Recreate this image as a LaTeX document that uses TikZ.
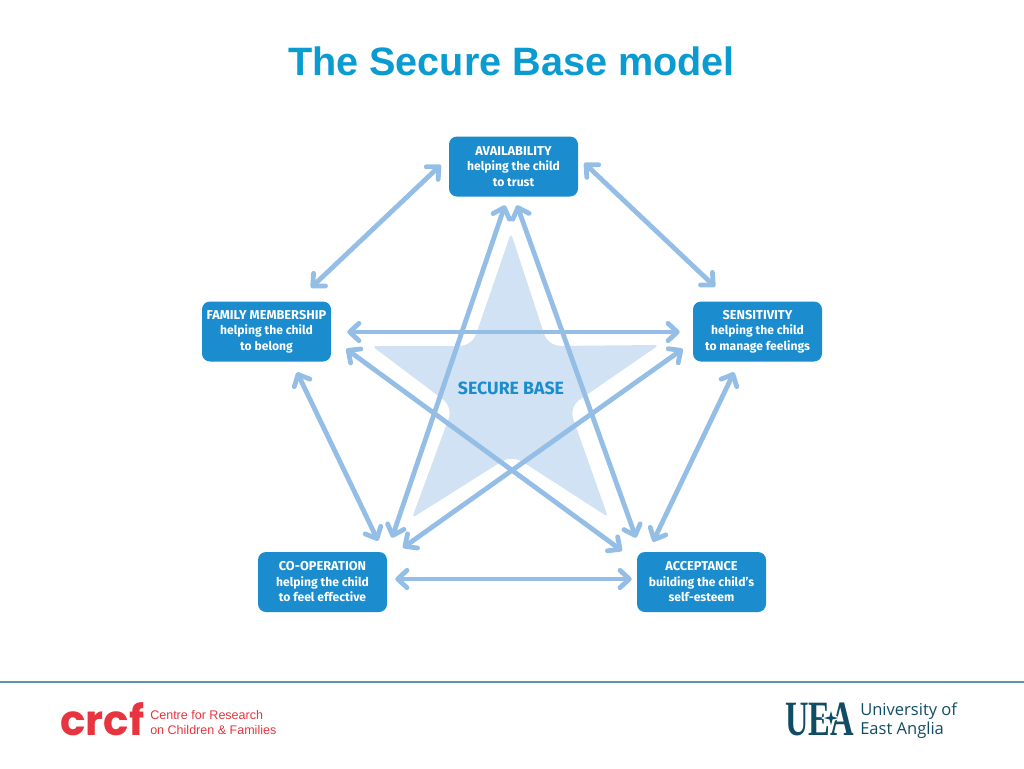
\documentclass[tikz,border=0pt]{standalone}
\usepackage{fontspec}
\setmainfont{Liberation Sans}
\newfontfamily\boxfont{Fira Sans}
\newfontfamily\crcffont{Poppins}
\newfontfamily\ueafont{Liberation Serif}
\newfontfamily\uniname{Open Sans}
\usetikzlibrary{arrows.meta,calc}
\definecolor{titleblue}{RGB}{10,155,208}
\definecolor{boxblue}{RGB}{27,140,205}
\definecolor{arrowblue}{RGB}{148,190,230}
\definecolor{starblue}{RGB}{208,226,243}
\definecolor{rulecol}{RGB}{96,146,176}
\definecolor{crcfred}{RGB}{232,52,62}
\definecolor{ueateal}{RGB}{16,76,100}
\newcommand{\boxhead}[1]{{\fontsize{9.6}{11.6}\selectfont #1}}
\tikzset{
  modelbox/.style={fill=boxblue,rounded corners=6pt,minimum width=96.75pt,minimum height=45pt,inner sep=0pt,
    text=white,align=center,font=\boxfont\bfseries\fontsize{9.1}{11.6}\selectfont},
  twoway/.style={draw=arrowblue,line width=3.6pt,{Straight Barb[round,length=7pt,width=13pt,line width=3.6pt]}-{Straight Barb[round,length=7pt,width=13pt,line width=3.6pt]}},
}
\begin{document}
\begin{tikzpicture}[x=0.75pt,y=0.75pt,yscale=-1,xscale=1]
\useasboundingbox (0,0) rectangle (1024,768);

% title
\node (title) at (511.5,61) {\fontsize{29.7}{34}\selectfont\bfseries\color{titleblue}The Secure Base model};

% star
\fill[starblue,rounded corners=3pt] (511,233) [rounded corners=9pt] -- (548,346) [rounded corners=3pt] -- (659,345)
  [rounded corners=9pt] -- (569,407) [rounded corners=3pt] -- (608,517) [rounded corners=9pt] -- (512,455)
  [rounded corners=3pt] -- (412,518) [rounded corners=9pt] -- (453,407) [rounded corners=3pt] -- (372,346)
  [rounded corners=9pt] -- (472,346) [rounded corners=3pt] -- cycle;
\node[text=boxblue,font=\boxfont\bfseries\fontsize{13.3}{15}\selectfont] (base) at (511,388) {SECURE BASE};

% boxes
\node[modelbox] (avail) at (513.5,166.5) {\boxhead{AVAILABILITY}\\helping the child\\to trust};
\node[modelbox] (family) at (266.5,331.5) {\boxhead{FAMILY MEMBERSHIP}\\helping the child\\to belong};
\node[modelbox] (sens) at (757.5,331.5) {\boxhead{SENSITIVITY}\\helping the child\\to manage feelings};
\node[modelbox] (coop) at (322.5,582) {\boxhead{CO-OPERATION}\\helping the child\\to feel effective};
\node[modelbox] (accept) at (701.5,582) {\boxhead{ACCEPTANCE}\\building the child’s\\self-esteem};

% arrows
\draw[twoway] ($(avail.west)+(-8,-1.5)$) -- ($(family.north)+(44.5,-13.5)$);
\draw[twoway] ($(avail.east)+(6,-3.5)$) -- ($(sens.north)+(-42.5,-14.5)$);
\draw[twoway] ($(avail.south)+(-8.5,8.5)$) -- ($(coop.north)+(69.5,-14)$);
\draw[twoway] ($(avail.south)+(3.5,8.5)$) -- ($(accept.north)+(-65.5,-14)$);
\draw[twoway] ($(family.east)+(16,.5)$) -- ($(sens.west)+(-13,.5)$);
\draw[twoway] ($(family.east)+(15,17.5)$) -- ($(accept.north)+(-79.5,-1)$);
\draw[twoway] ($(sens.west)+(-10,17.5)$) -- ($(coop.north)+(80.5,-4)$);
\draw[twoway] ($(family.south)+(30.5,10.5)$) -- ($(coop.north)+(55.5,-11)$);
\draw[twoway] ($(sens.south)+(-23.5,10.5)$) -- ($(accept.north)+(-48.5,-10)$);
\draw[twoway] ($(coop.east)+(8,-3)$) -- ($(accept.west)+(-5,-3)$);

% footer
\draw[rulecol,line width=0.8pt] (0,682) -- (1024,682);
\node[text=crcfred,inner sep=0pt,anchor=base west,font=\crcffont\bfseries\fontsize{31.5}{32}\selectfont] (crcf) at (60,735) {crcf};
\node[text=crcfred,inner sep=0pt,anchor=north west,align=left,font=\fontsize{9.4}{11.4}\selectfont] (centre) at (150,710) {Centre for Research\\on Children \& Families};
\node[text=ueateal,inner sep=0pt,anchor=base west,font=\ueafont\bfseries\fontsize{37}{37}\selectfont] (uea) at (785,735) {\scalebox{0.66}[1]{UEA}};
\fill[white] (831,708) -- (834,715) -- (841,718) -- (834,721) -- (831,728) -- (828,721) -- (821,718) -- (828,715) -- cycle;
\fill[ueateal] (831,711) -- (832.5,716.5) -- (838,718) -- (832.5,719.5) -- (831,725) -- (829.5,719.5) -- (824,718) -- (829.5,716.5) -- cycle;
\node[text=ueateal,inner sep=0pt,anchor=north west,align=left,font=\uniname\fontsize{12.4}{14.2}\selectfont] (uni) at (860,703) {University of\\East Anglia};
\end{tikzpicture}
\end{document}
